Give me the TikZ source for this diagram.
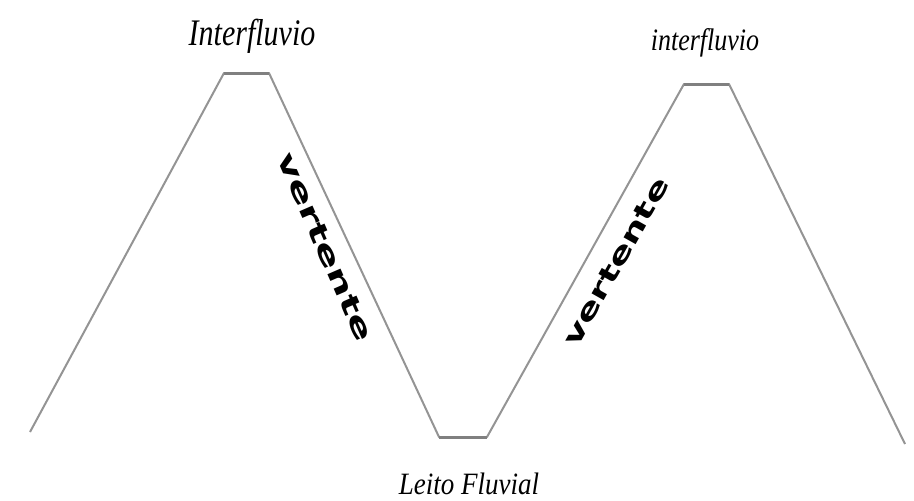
\documentclass[tikz,border=0pt]{standalone}
\usepackage{fontspec}
\setmainfont{Liberation Serif}
\newfontfamily\slopefont{DejaVu Sans}
\begin{document}
\begin{tikzpicture}[x=1pt,y=-1pt,
  profile/.style={draw=black!42, line width=2pt, line join=round},
  topline/.style={draw=black!50, line width=3pt},
  label/.style={font=\itshape\fontsize{30}{30}\selectfont, inner sep=0pt},
  slopelabel/.style={font=\slopefont\bfseries\fontsize{42}{42}\selectfont, inner sep=0pt}]
\useasboundingbox (0,0) rectangle (914,501);
\coordinate (p0) at (30,432);
\coordinate (p1) at (224,73);
\coordinate (p2) at (269,73);
\coordinate (p3) at (439,437);
\coordinate (p4) at (487,437);
\coordinate (p5) at (684,84);
\coordinate (p6) at (729,84);
\coordinate (p7) at (905,444);
\draw[profile] (p0) -- (p1) -- (p2) -- (p3) -- (p4) -- (p5) -- (p6) -- (p7);
\draw[topline] (p1) -- (p2);
\draw[topline] (p3) -- (p4);
\draw[topline] (p5) -- (p6);
\node[label, yscale=1.25] (i1) at (252,36) {Interfluvio};
\node[label, yscale=1.2, font=\itshape\fontsize{26}{26}\selectfont] (i2) at (705,43) {interfluvio};
\node[label, yscale=1.15, font=\itshape\fontsize{27}{27}\selectfont] (lf) at (469,484) {Leito Fluvial};
\node[slopelabel, rotate=-66.5] (v1) at (325,247) {\scalebox{1}[0.62]{vertente}};
\node[slopelabel, rotate=60.6, font=\slopefont\bfseries\fontsize{39}{39}\selectfont] (v2) at (616,262) {\scalebox{1}[0.65]{vertente}};
\end{tikzpicture}
\end{document}
